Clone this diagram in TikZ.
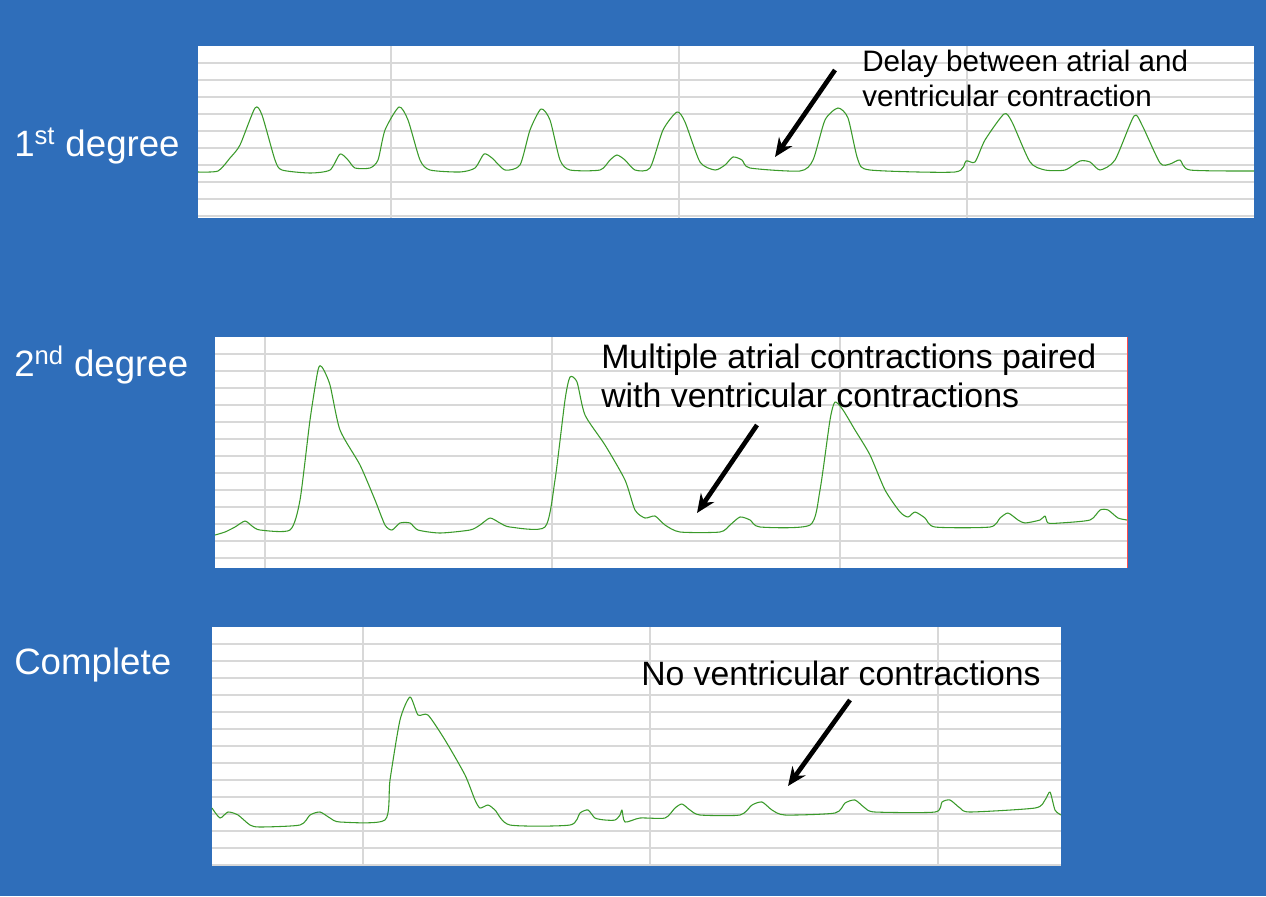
\documentclass[tikz,border=0pt]{standalone}
\usepackage{fontspec}
\setmainfont{Liberation Sans}
\usetikzlibrary{arrows.meta}
\definecolor{bg}{HTML}{2F6EBA}
\definecolor{gridc}{HTML}{D8D8D8}
\definecolor{trace}{HTML}{3A9A2A}
\begin{document}
\begin{tikzpicture}[x=0.75pt,y=-0.75pt,
  panel/.style={fill=white,draw=none},
  gl/.style={gridc,line width=0.8pt},
  tr/.style={trace,line width=0.8pt,line join=round},
  arr/.style={-{Stealth[length=14pt,width=12pt]},line width=3.5pt,black},
  lbl/.style={white,font=\fontsize{27.5pt}{30pt}\selectfont,anchor=west,inner sep=0},
  note/.style={black,anchor=west,inner sep=0}]
\fill[bg] (0,0) rectangle (1266,896);
\useasboundingbox (0,0) rectangle (1266,896);
% panel 1
\fill[panel] (198,46) rectangle (1254,218);
\foreach \y in {63,80,97,114,131,148,165,182,199,216} \draw[gl] (198,\y) -- (1254,\y);
\foreach \x in {391,679,967} \draw[gl] (\x,46) -- (\x,218);
\draw[tr] plot[smooth,tension=0.4] coordinates {(198,172) (218,171) (230,158) (240,145) (255,108) (262,115) (275,160) (282,170) (310,173) (330,170) (340,154) (348,160) (355,168) (370,168) (378,160) (385,130) (399,107) (408,120) (420,160) (430,170) (460,172) (475,168) (484,154) (492,158) (505,170) (520,165) (530,130) (541,109) (550,120) (560,160) (570,170) (600,170) (610,160) (617,155) (625,160) (635,170) (650,168) (663,130) (677,112) (685,122) (700,162) (715,170) (725,165) (733,157) (742,160) (750,168) (800,171) (813,160) (825,120) (838,108) (848,118) (858,160) (870,170) (955,172) (966,161) (975,162) (985,140) (1004,114) (1012,122) (1030,162) (1045,170) (1065,170) (1080,161) (1090,162) (1100,170) (1115,160) (1134,116) (1142,125) (1160,163) (1170,164) (1180,160) (1190,170) (1254,171)};
% panel 2
\fill[panel] (215,337) rectangle (1127,568);
\foreach \y in {354,371,388,405,422,439,456,473,490,507,524,541,558} \draw[gl] (215,\y) -- (1127,\y);
\foreach \x in {265,552,840} \draw[gl] (\x,337) -- (\x,568);
\draw[red!70,line width=0.6pt] (1127,337) -- (1127,568);
\draw[tr] plot[smooth,tension=0.4] coordinates {(215,535) (225,532) (235,527) (245,521) (252,526) (260,530) (290,530) (300,500) (310,420) (318,370) (322,367) (330,385) (340,430) (360,465) (375,500) (385,525) (392,530) (400,523) (410,523) (418,530) (440,533) (470,530) (480,525) (490,518) (500,523) (510,527) (545,527) (555,480) (565,400) (570,377) (577,382) (585,415) (605,445) (625,480) (635,510) (645,518) (655,516) (665,525) (680,532) (720,532) (730,525) (740,517) (750,520) (760,527) (810,525) (820,490) (830,420) (835,402) (843,410) (855,430) (870,455) (885,490) (900,512) (908,517) (915,512) (925,518) (935,527) (990,527) (1000,518) (1008,513) (1018,520) (1025,523) (1040,520) (1045,516) (1048,523) (1060,523) (1090,520) (1100,510) (1108,510) (1118,518) (1127,520)};
% panel 3
\fill[panel] (212,627) rectangle (1061,866);
\foreach \y in {644,661,678,695,712,729,746,763,780,797,814,831,848,865} \draw[gl] (212,\y) -- (1061,\y);
\foreach \x in {363,650,938} \draw[gl] (\x,627) -- (\x,866);
\draw[tr] plot[smooth,tension=0.4] coordinates {(212,808) (220,818) (228,812) (238,815) (250,825) (260,827) (300,825) (310,815) (320,812) (330,818) (340,822) (385,820) (390,780) (400,720) (410,697) (418,715) (428,715) (445,740) (465,775) (475,800) (480,808) (488,805) (495,810) (510,825) (570,825) (580,813) (588,810) (595,818) (605,820) (615,820) (620,815) (622,810) (625,822) (640,818) (665,818) (675,808) (682,804) (690,810) (700,815) (740,815) (752,805) (762,802) (772,810) (785,815) (835,813) (845,803) (855,800) (865,808) (875,812) (935,812) (942,802) (950,800) (960,808) (970,812) (1035,808) (1045,800) (1050,792) (1055,810) (1061,815)};
% labels
\node[lbl] (l1) at (14,146) {1\textsuperscript{st} degree};
\node[lbl] (l2) at (14,365) {2\textsuperscript{nd} degree};
\node[lbl] (l3) at (14,665) {Complete};
\node[note,font=\fontsize{22.2pt}{26.3pt}\selectfont,align=left] (n1) at (862,78) {Delay between atrial and\\ventricular contraction};
\node[note,font=\fontsize{25.4pt}{29.3pt}\selectfont,align=left] (n2) at (601,376) {Multiple atrial contractions paired\\with ventricular contractions};
\node[note,font=\fontsize{25.3pt}{29pt}\selectfont] (n3) at (641,673) {No ventricular contractions};
\coordinate (a1s) at (835,70); \coordinate (a1e) at (775,157);
\coordinate (a2s) at (757,425); \coordinate (a2e) at (697,513);
\coordinate (a3s) at (850,700); \coordinate (a3e) at (788,786);
\draw[arr] (a1s) -- (a1e);
\draw[arr] (a2s) -- (a2e);
\draw[arr] (a3s) -- (a3e);
\end{tikzpicture}
\end{document}
